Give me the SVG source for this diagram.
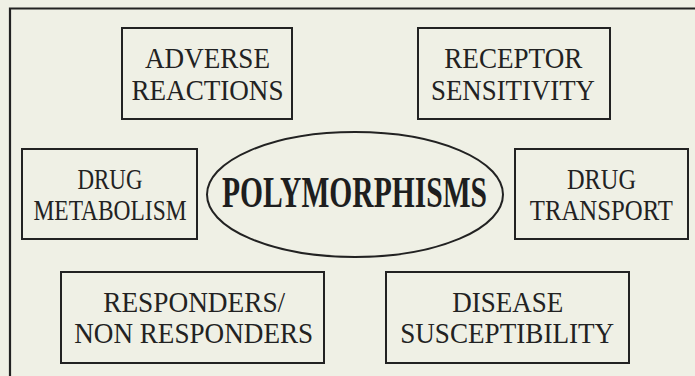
<svg xmlns="http://www.w3.org/2000/svg" width="695" height="376" viewBox="0 0 695 376">
<style>
.box{fill:none;stroke:#222;stroke-width:2}
.t{font-family:"Liberation Serif","Times New Roman",serif;font-size:30px;fill:#222;text-anchor:middle}
.b{font-family:"Liberation Serif","Times New Roman",serif;font-size:44px;font-weight:bold;fill:#1e1e1e;text-anchor:middle}
</style>
<rect x="0" y="0" width="695" height="376" fill="#eff0e5"/>
<path d="M10,376 V8.5 H695" fill="none" stroke="#222" stroke-width="2.2"/>
<g id="center">
<ellipse cx="355" cy="194.5" rx="148" ry="62.5" class="box"/>
<text x="354.5" y="207" class="b" textLength="265" lengthAdjust="spacingAndGlyphs">POLYMORPHISMS</text>
</g>
<g id="adverse">
<rect x="122" y="28" width="170" height="91" class="box"/>
<text x="207.5" y="68" class="t" textLength="125" lengthAdjust="spacingAndGlyphs">ADVERSE</text>
<text x="207.5" y="99.5" class="t" textLength="152" lengthAdjust="spacingAndGlyphs">REACTIONS</text>
</g>
<g id="receptor">
<rect x="418" y="28" width="192" height="91" class="box"/>
<text x="513.3" y="67.5" class="t" textLength="138" lengthAdjust="spacingAndGlyphs">RECEPTOR</text>
<text x="513" y="99.5" class="t" textLength="164" lengthAdjust="spacingAndGlyphs">SENSITIVITY</text>
</g>
<g id="metabolism">
<rect x="22" y="149" width="175" height="90" class="box"/>
<text x="110" y="189" class="t" textLength="65" lengthAdjust="spacingAndGlyphs">DRUG</text>
<text x="110" y="220.3" class="t" textLength="153" lengthAdjust="spacingAndGlyphs">METABOLISM</text>
</g>
<g id="transport">
<rect x="515" y="149" width="173" height="90" class="box"/>
<text x="601.5" y="189" class="t" textLength="69" lengthAdjust="spacingAndGlyphs">DRUG</text>
<text x="601.3" y="220.3" class="t" textLength="143" lengthAdjust="spacingAndGlyphs">TRANSPORT</text>
</g>
<g id="responders">
<rect x="61" y="272" width="263" height="91" class="box"/>
<text x="194.2" y="311.7" class="t" textLength="182" lengthAdjust="spacingAndGlyphs">RESPONDERS/</text>
<text x="193.7" y="343.3" class="t" textLength="239" lengthAdjust="spacingAndGlyphs">NON RESPONDERS</text>
</g>
<g id="disease">
<rect x="386" y="272" width="243" height="91" class="box"/>
<text x="507.8" y="311.7" class="t" textLength="111" lengthAdjust="spacingAndGlyphs">DISEASE</text>
<text x="507.2" y="343.3" class="t" textLength="214" lengthAdjust="spacingAndGlyphs">SUSCEPTIBILITY</text>
</g>
<g id="connectors"></g>
</svg>
